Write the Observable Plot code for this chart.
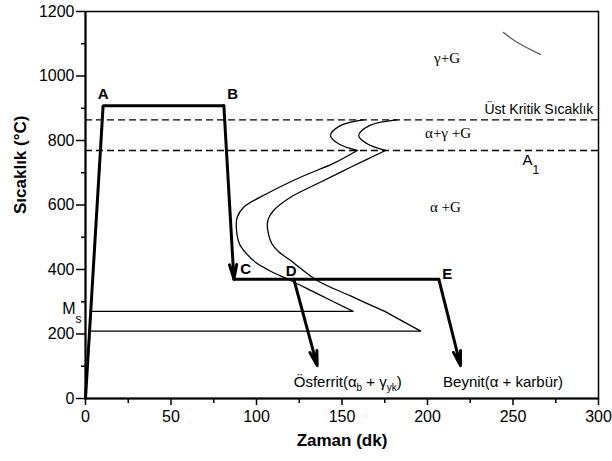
<!DOCTYPE html>
<html><head><meta charset="utf-8">
<script src="https://cdn.jsdelivr.net/npm/d3@7"></script>
<script src="https://cdn.jsdelivr.net/npm/@observablehq/plot@0.6"></script>
<style>body{margin:0;background:#fff}</style>
</head><body><div id="chart"></div>
<script>
// ---- tick values
const xTicksMajor = [0, 50, 100, 150, 200, 250, 300];
const xTicksMinor = [25, 75, 125, 175, 225, 275];
const yTicksMajor = [0, 200, 400, 600, 800, 1000, 1200];
const yTicksMinor = [100, 300, 500, 700, 900, 1100];

// ---- axis titles
const xTitle = ["Zaman (dk)"];
const yTitle = ["Sıcaklık (°C)"];

// ---- heat-treatment path (time, temperature)
const heatTime = [0, 10.3, 80.9];
const heatTemp = [0, 908, 908];
const holdTime = [86.8, 206.6];
const holdTemp = [370, 370];
const arrowStartTime = [80.9, 206.6, 121.8];
const arrowStartTemp = [908, 370, 370];
const arrowEndTime = [86.8, 219.3, 135.5];
const arrowEndTemp = [370, 102, 102];

// ---- critical temperatures (dashed)
const criticalTemps = [864, 769];

// ---- Ms lines
const msStartTime = [3, 2.3];
const msEndTime = [156.5, 196];
const msTemp = [270, 209];

// ---- transformation curves
const leftUpperTime = [162.6, 149, 143.3, 148, 158.9];
const leftUpperTemp = [864, 846, 815, 790, 769];
const leftLowerTime = [158.9, 145, 125.7, 106, 92.5, 88.7, 88.2, 90, 94, 100, 110, 120, 135.5, 156.5];
const leftLowerTemp = [769, 729, 686, 635, 593, 562, 530, 480, 450, 420, 390, 366, 325, 270];
const rightUpperTime = [182.2, 166, 159.8, 164.7, 175.4];
const rightUpperTemp = [864, 846, 815, 790, 769];
const rightLowerTime = [175.4, 155, 135.5, 119.9, 110, 107, 106.3, 107, 109, 113, 120, 135.5, 155, 175];
const rightLowerTemp = [769, 717, 666, 624, 583, 558, 540, 510, 480, 455, 428, 366, 318, 270];
const rightTailTime = [175, 196];
const rightTailTemp = [270, 209];

// ---- scan smudge
const smudgeTime = [244.4, 252.6, 266];
const smudgeTemp = [1135, 1104, 1067];

// ---- point labels
const pointLabels = ["A", "B", "C", "D", "E"];
const pointLabelTime = [10.3, 86, 93.6, 120.3, 211.5];
const pointLabelTemp = [945, 945, 402, 395, 387];

// ---- phase labels (serif)
const phaseLabels = ["γ+G", "α+γ +G", "α +G"];
const phaseLabelTime = [211.4, 212, 210.5];
const phaseLabelTemp = [1054, 822, 592];

// ---- other annotations (left-anchored), {..} = subscript
const noteLabels = ["Ösferrit(α{b} + γ{yk})", "Beynit(α + karbür)", "M{s}", "A{1}"];
const noteLabelTime = [121.8, 209.1, -13.6, 255.6];
const noteLabelTemp = [52, 52, 278, 738];
const noteLabelSize = [15, 15, 16, 15];

const upperCritLabel = ["Üst Kritik Sıcaklık"];
const upperCritTime = [297];
const upperCritTemp = [896];

const pts = (ts, Ts) => ts.map((t, i) => ({t, T: Ts[i]}));
const curveStyle = {x: "t", y: "T", stroke: "#000", strokeWidth: 1.3, curve: "catmull-rom"};

const chart = Plot.plot({
  width: 612, height: 461,
  marginLeft: 85, marginRight: 14, marginTop: 11, marginBottom: 63,
  x: {domain: [0, 300], label: null},
  y: {domain: [0, 1200], label: null},
  style: {fontFamily: "'Liberation Sans', Arial, sans-serif", fontSize: "16px", color: "#000", background: "#fff", overflow: "visible"},
  marks: [
    Plot.frame({stroke: "#000", strokeWidth: 1.5}),
    Plot.ruleY(criticalTemps, {x1: 0, x2: 300, y: d => d, stroke: "#000", strokeWidth: 1.3, strokeDasharray: "7,4"}),
    Plot.line(pts(leftUpperTime, leftUpperTemp), curveStyle),
    Plot.line(pts(leftLowerTime, leftLowerTemp), curveStyle),
    Plot.line(pts(rightUpperTime, rightUpperTemp), curveStyle),
    Plot.line(pts(rightLowerTime, rightLowerTemp), curveStyle),
    Plot.line(pts(rightTailTime, rightTailTemp), {x: "t", y: "T", stroke: "#000", strokeWidth: 1.3}),
    Plot.link(msTemp.map((T, i) => ({x1: msStartTime[i], x2: msEndTime[i], T})), {x1: "x1", x2: "x2", y1: "T", y2: "T", stroke: "#000", strokeWidth: 1.3}),
    Plot.line(pts(smudgeTime, smudgeTemp), {x: "t", y: "T", stroke: "#222", strokeWidth: 1.3, strokeOpacity: 0.75, curve: "catmull-rom"}),
    Plot.line(pts(heatTime, heatTemp), {x: "t", y: "T", stroke: "#000", strokeWidth: 3, strokeLinejoin: "miter"}),
    Plot.line(pts(holdTime, holdTemp), {x: "t", y: "T", stroke: "#000", strokeWidth: 3}),
    Plot.arrow(arrowStartTime.map((t, i) => ({x1: t, y1: arrowStartTemp[i], x2: arrowEndTime[i], y2: arrowEndTemp[i]})),
      {x1: "x1", y1: "y1", x2: "x2", y2: "y2", stroke: "#000", strokeWidth: 3, headLength: 7.5, headAngle: 28}),
    Plot.text(pointLabels.map((s, i) => ({s, t: pointLabelTime[i], T: pointLabelTemp[i]})),
      {x: "t", y: "T", text: "s", fontWeight: "bold", fontSize: 15, fill: "#000"}),
    Plot.text(phaseLabels.map((s, i) => ({s, t: phaseLabelTime[i], T: phaseLabelTemp[i]})),
      {x: "t", y: "T", text: "s", fontFamily: "'Liberation Serif', 'Times New Roman', serif", fontSize: 15, fill: "#000"}),
    Plot.text(noteLabels.map((s, i) => ({s, t: noteLabelTime[i], T: noteLabelTemp[i], f: noteLabelSize[i]})),
      {x: "t", y: "T", text: "s", fontSize: "f", textAnchor: "start", fill: "#000"}),
    Plot.text(upperCritLabel.map((s, i) => ({s, t: upperCritTime[i], T: upperCritTemp[i]})),
      {x: "t", y: "T", text: "s", fontSize: 14, textAnchor: "end", fill: "#000"}),
    Plot.axisX({ticks: xTicksMajor, tickSize: 7, tickPadding: 5, fontSize: 16, tickFormat: d => String(d), label: null, strokeWidth: 1.5}),
    Plot.axisX({ticks: xTicksMinor, tickSize: 5, tickFormat: () => "", label: null, strokeWidth: 1.5}),
    Plot.axisY({ticks: yTicksMajor, tickSize: 9, tickPadding: 2, fontSize: 16, tickFormat: d => String(d), label: null, strokeWidth: 1.5}),
    Plot.axisY({ticks: yTicksMinor, tickSize: 4, tickFormat: () => "", label: null, strokeWidth: 1.5}),
    Plot.ruleX([0], {stroke: "#000", strokeWidth: 2}),
    Plot.ruleY([0], {stroke: "#000", strokeWidth: 2}),
    Plot.text(xTitle, {text: d => d, frameAnchor: "bottom", dy: 47, fontWeight: "bold", fontSize: 17, fill: "#000"}),
    Plot.text(yTitle, {text: d => d, frameAnchor: "left", rotate: -90, dx: -65, dy: 9, fontWeight: "bold", fontSize: 17, fill: "#000"})
  ]
});

// subscripts: {...}
d3.select(chart).selectAll("text").each(function() {
  const s = this.textContent;
  if (!s.includes("{")) return;
  const big = s.length <= 5;
  const shift = big ? 9 : 4;
  const subSize = big ? 12 : 10;
  const el = d3.select(this);
  el.text(null);
  let down = false;
  s.split(/(\{[^}]*\})/).filter(p => p).forEach(p => {
    if (p.startsWith("{")) {
      el.append("tspan").attr("dy", shift).attr("font-size", subSize).attr("fill", "#000").text(p.slice(1, -1));
      down = true;
    } else {
      const ts = el.append("tspan").attr("fill", "#000").text(p);
      if (down) { ts.attr("dy", -shift); down = false; }
    }
  });
});

document.getElementById("chart").appendChild(chart);
</script>
</body></html>
